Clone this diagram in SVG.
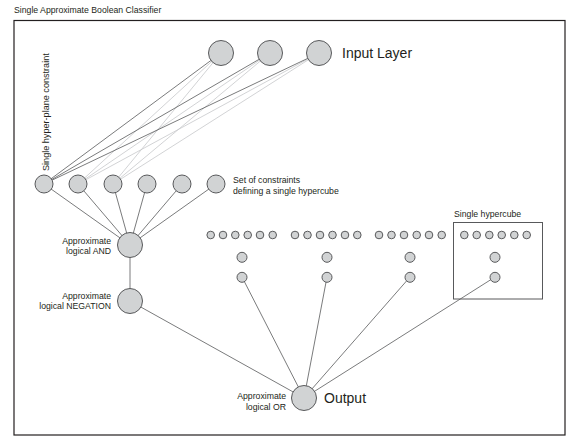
<svg xmlns="http://www.w3.org/2000/svg" width="567" height="437" viewBox="0 0 567 437">
<style>
text{font-family:"Liberation Sans",Arial,sans-serif;fill:#231f20}
.s{font-size:8.7px}
.r{font-size:9.1px}
.b{font-size:14px}
.n{fill:#d1d3d4;stroke:#58595b;stroke-width:1}
.e{stroke:#58595b;stroke-width:0.8;fill:none}
.d{stroke:#58595b;stroke-width:0.8}
.l{stroke:#c7c8ca;stroke-width:0.8}
</style>
<rect x="0" y="0" width="567" height="437" fill="#fff"/>
<text class="s" x="14" y="13">Single Approximate Boolean Classifier</text>
<rect x="14" y="20.5" width="551" height="414.5" fill="none" stroke="#231f20" stroke-width="1.2"/>
<g id="connectors">
<line class="l" x1="221" y1="53" x2="78" y2="184"/>
<line class="l" x1="221" y1="53" x2="113" y2="184"/>
<line class="l" x1="270" y1="53" x2="78" y2="184"/>
<line class="l" x1="270" y1="53" x2="113" y2="184"/>
<line class="l" x1="319" y1="53" x2="78" y2="184"/>
<line class="l" x1="319" y1="53" x2="113" y2="184"/>
<line class="d" x1="221" y1="53" x2="44" y2="184"/>
<line class="d" x1="270" y1="53" x2="44" y2="184"/>
<line class="d" x1="319" y1="53" x2="44" y2="184"/>
<line class="e" x1="44" y1="184" x2="130" y2="245"/>
<line class="e" x1="78" y1="184" x2="130" y2="245"/>
<line class="e" x1="113" y1="184" x2="130" y2="245"/>
<line class="e" x1="147" y1="184" x2="130" y2="245"/>
<line class="e" x1="182" y1="184" x2="130" y2="245"/>
<line class="e" x1="216" y1="184" x2="130" y2="245"/>
<line class="e" x1="130" y1="245" x2="130" y2="301"/>
<line class="e" x1="130" y1="301" x2="304" y2="398"/>
<line class="e" x1="242" y1="277" x2="304" y2="398"/>
<line class="e" x1="327" y1="277" x2="304" y2="398"/>
<line class="e" x1="410" y1="277" x2="304" y2="398"/>
<line class="e" x1="495" y1="277" x2="304" y2="398"/>
</g>
<g id="input1"><circle class="n" cx="221" cy="53" r="12.5"/></g>
<g id="input2"><circle class="n" cx="270" cy="53" r="12.5"/></g>
<g id="input3"><circle class="n" cx="319" cy="53" r="12.5"/></g>
<text class="b" x="342" y="58">Input Layer</text>
<text class="r" transform="translate(48.5,171) rotate(-90)">Single hyper-plane constraint</text>
<g id="constraints">
<circle class="n" cx="44" cy="184" r="9"/>
<circle class="n" cx="78" cy="184" r="9"/>
<circle class="n" cx="113" cy="184" r="9"/>
<circle class="n" cx="147" cy="184" r="9"/>
<circle class="n" cx="182" cy="184" r="9"/>
<circle class="n" cx="216" cy="184" r="9"/>
</g>
<text class="s" x="233" y="183">Set of constraints</text>
<text class="s" x="233" y="194">defining a single hypercube</text>
<g id="and"><circle class="n" cx="130" cy="245" r="12.5"/></g>
<text class="s" x="111" y="244" text-anchor="end">Approximate</text>
<text class="s" x="111" y="254" text-anchor="end">logical AND</text>
<g id="negation"><circle class="n" cx="130" cy="301" r="12.5"/></g>
<text class="s" x="111" y="299" text-anchor="end">Approximate</text>
<text class="s" x="111" y="309" text-anchor="end">logical NEGATION</text>
<g id="hypercube1">
<circle class="n" cx="210.7" cy="235" r="3.8"/><circle class="n" cx="223" cy="235" r="3.8"/><circle class="n" cx="235.3" cy="235" r="3.8"/><circle class="n" cx="247.7" cy="235" r="3.8"/><circle class="n" cx="260" cy="235" r="3.8"/><circle class="n" cx="272.7" cy="235" r="3.8"/>
<circle class="n" cx="242" cy="257.3" r="5"/><circle class="n" cx="242" cy="277.3" r="5"/>
</g>
<g id="hypercube2">
<circle class="n" cx="295" cy="235" r="3.8"/><circle class="n" cx="307.5" cy="235" r="3.8"/><circle class="n" cx="320" cy="235" r="3.8"/><circle class="n" cx="332.5" cy="235" r="3.8"/><circle class="n" cx="345" cy="235" r="3.8"/><circle class="n" cx="357.3" cy="235" r="3.8"/>
<circle class="n" cx="327" cy="257.3" r="5"/><circle class="n" cx="327" cy="277.3" r="5"/>
</g>
<g id="hypercube3">
<circle class="n" cx="379" cy="235" r="3.8"/><circle class="n" cx="391.5" cy="235" r="3.8"/><circle class="n" cx="404" cy="235" r="3.8"/><circle class="n" cx="416.7" cy="235" r="3.8"/><circle class="n" cx="429" cy="235" r="3.8"/><circle class="n" cx="441.7" cy="235" r="3.8"/>
<circle class="n" cx="410" cy="257.3" r="5"/><circle class="n" cx="410" cy="277.3" r="5"/>
</g>
<g id="hypercube4">
<rect x="453.5" y="222.5" width="89" height="76.5" fill="none" stroke="#58595b" stroke-width="1"/>
<circle class="n" cx="464.3" cy="235" r="3.8"/><circle class="n" cx="476.7" cy="235" r="3.8"/><circle class="n" cx="489.3" cy="235" r="3.8"/><circle class="n" cx="501.7" cy="235" r="3.8"/><circle class="n" cx="514.3" cy="235" r="3.8"/><circle class="n" cx="526.7" cy="235" r="3.8"/>
<circle class="n" cx="495" cy="257.3" r="5"/><circle class="n" cx="495" cy="277.3" r="5"/>
</g>
<text class="s" x="454" y="217">Single hypercube</text>
<g id="output"><circle class="n" cx="304" cy="398" r="12.5"/></g>
<text class="s" x="286" y="399" text-anchor="end">Approximate</text>
<text class="s" x="286" y="410" text-anchor="end">logical OR</text>
<text class="b" x="324" y="403">Output</text>
</svg>
